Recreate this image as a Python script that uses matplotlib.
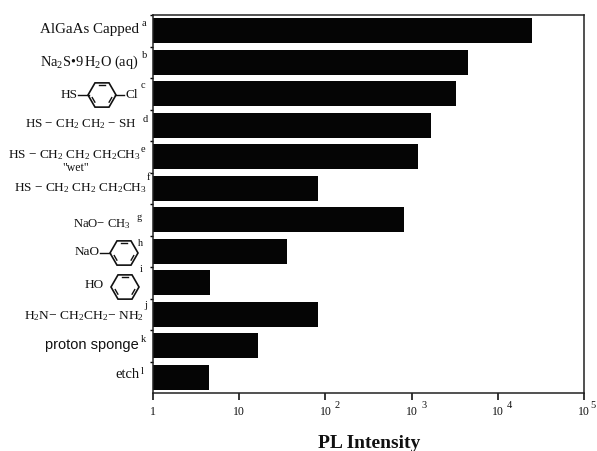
import numpy as np
import matplotlib
matplotlib.use("Agg")
import matplotlib.pyplot as plt
from matplotlib.patches import RegularPolygon
from matplotlib.lines import Line2D
from matplotlib.transforms import IdentityTransform

plt.rcParams["font.family"] = "Liberation Serif"
plt.rcParams["mathtext.fontset"] = "custom"
plt.rcParams["mathtext.rm"] = "Liberation Serif"
plt.rcParams["mathtext.it"] = "Liberation Serif:italic"
plt.rcParams["mathtext.bf"] = "Liberation Serif:bold"

# Datos
muestras = ["AlGaAs Capped", r"$\mathrm{Na_2S}$•$\mathrm{9\,H_2O}$ (aq)", "HS-ring-Cl",
            r"HS $-$ CH$_2$ CH$_2$ $-$ SH", r"HS $-$ CH$_2$ CH$_2$ CH$_2$CH$_3$",
            r"HS $-$ CH$_2$ CH$_2$ CH$_2$CH$_3$", r"NaO$-$ CH$_3$", "NaO-ring",
            "HO-ring", r"H$_2$N$-$ CH$_2$CH$_2$$-$ NH$_2$", "proton sponge", "etch"]
notas = ["a", "b", "c", "d", "e", "f", "g", "h", "i", "j", "k", "l"]
intensidad = [24900, 4500, 3270, 1680, 1190, 82, 816, 36, 4.6, 82, 16.5, 4.5]
ticks_x = [1, 10, 100, 1000, 10000, 100000]
ticks_txt = ["1", "10", "10", "10", "10", "10"]
exponentes = ["", "", "2", "3", "4", "5"]

W, H = 597, 451
fig = plt.figure(figsize=(W / 100, H / 100), dpi=100)
ax = fig.add_axes([153 / W, 1 - 393 / H, (584 - 153) / W, (393 - 15) / H])

y = np.arange(len(muestras))
# las barras arrancan en 1 (eje log), el ancho es valor - 1
ax.barh(y, np.array(intensidad) - 1, left=1, height=0.8, color="#050505")
ax.set_xscale("log")
ax.set_xlim(1, 100000)
ax.set_ylim(11.5, -0.5)
ax.set_xticks(ticks_x)
ax.set_xticklabels([])
ax.minorticks_off()
ax.tick_params(axis="x", which="major", length=5, width=1.1, direction="out")
ax.set_yticks(y - 0.5)
ax.set_yticklabels([])
ax.tick_params(axis="y", length=2, width=1, direction="out")
for s in ax.spines.values():
    s.set_linewidth(1.1)
    s.set_color("#222222")


def txt(x, yy, s, size=9, ha="right", **kw):
    fig.text(x / W, 1 - yy / H, s, fontsize=size, ha=ha, va="center", color="#111111", **kw)


def raya(x0, x1, yy):
    fig.add_artist(Line2D([x0, x1], [H - yy, H - yy], color="#111111", lw=1,
                          transform=IdentityTransform()))


def anillo(cx, cy, r=14):
    # anillo de benceno dibujado en pixeles
    yd = H - cy
    fig.add_artist(RegularPolygon((cx, yd), 6, radius=r, orientation=np.pi / 6, fill=False,
                                  edgecolor="#111111", linewidth=1.2,
                                  transform=IdentityTransform()))
    for a in [60, 180, 300]:
        a0, a1 = np.radians(a + 15), np.radians(a + 45)
        ri = r * 0.72
        fig.add_artist(Line2D([cx + ri * np.cos(a0), cx + ri * np.cos(a1)],
                              [yd + ri * np.sin(a0), yd + ri * np.sin(a1)],
                              color="#111111", linewidth=1, transform=IdentityTransform()))


# etiquetas de la izquierda
pos_label = [(139, 30), (139, 62), None, (137, 124), (141, 155), (147, 188),
             (131, 224), None, None, (144, 316), None, (139, 374)]
tam_label = [10.8, 10.4, 0, 9.4, 9.5, 9.5, 9.1, 0, 0, 9.7, 0, 10.5]
pos_nota = [(144, 23), (145, 55), (143, 85), (145, 119), (143, 150), (148, 177),
            (139, 218), (141, 243), (141, 270), (146, 305), (143, 339), (142, 372)]
for s, p, t in zip(muestras, pos_label, tam_label):
    if p is not None:
        txt(p[0], p[1], s, size=t)
for n, p in zip(notas, pos_nota):
    txt(p[0], p[1], n, size=7.5, ha="center")

txt(78, 95, "HS", size=9.5)
raya(78, 89, 95)
anillo(102, 95)
raya(115, 124, 95)
txt(126, 95, "Cl", size=9.5, ha="left")
txt(76, 168, '"wet"', size=8.5, ha="center")
txt(100, 252, "NaO", size=9.5)
raya(100, 110, 253)
anillo(124, 253)
txt(104, 285, "HO", size=9.5)
anillo(125, 287)
txt(139, 345, "proton sponge", size=10.5, family="Liberation Sans")

# eje x
for v, t, e in zip(ticks_x, ticks_txt, exponentes):
    xp = 153 + np.log10(v) * (584 - 153) / 5
    txt(xp, 412, t, size=8.5, ha="center")
    if e:
        # el ultimo exponente queda pegado al borde de la imagen
        txt(min(xp + 12, 593), 405, e, size=7.5, ha="center")

txt(369, 443, "PL Intensity", size=14, ha="center", fontweight="bold")

fig.savefig("out.png", dpi=100)
